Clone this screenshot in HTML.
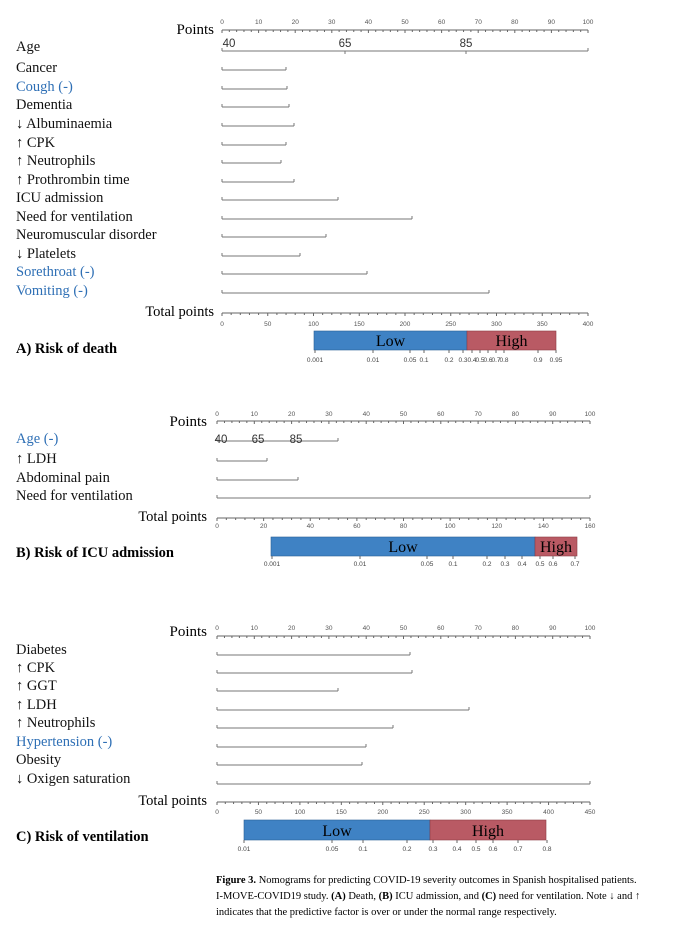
<!DOCTYPE html><html><head><style>body{margin:0;background:#fff}svg{display:block}</style></head><body>
<svg id="s" width="694" height="933" xmlns="http://www.w3.org/2000/svg" font-family="Liberation Serif, serif">
</svg>
<script>
const s=document.getElementById('s');let h='';
const blue='#2e6fb5';
function axis(x0,x1,y,max,step,minor,lblY,fs){
 h+=`<line x1="${x0}" y1="${y}" x2="${x1}" y2="${y}" stroke="#666" stroke-width="1"/>`;
 for(let v=0;v<=max+1e-9;v+=minor){const x=x0+(x1-x0)*v/max;const major=Math.abs(v/step-Math.round(v/step))<1e-6;
  h+=`<line x1="${x}" y1="${y}" x2="${x}" y2="${y+(major?3:2)}" stroke="#666"/>`;
  if(major)h+=`<text x="${x}" y="${lblY}" font-size="${fs}" font-family="Liberation Sans,sans-serif" fill="#555" text-anchor="middle">${Math.round(v)}</text>`;}
}
function lab(t,y,c){h+=`<text x="16" y="${y+5}" font-size="14.5" fill="${c?blue:'#111'}">${t}</text>`}
function seg(x0,x1,y){h+=`<line x1="${x0}" y1="${y}" x2="${x1}" y2="${y}" stroke="#777"/><line x1="${x0}" y1="${y}" x2="${x0}" y2="${y-3}" stroke="#777"/><line x1="${x1}" y1="${y}" x2="${x1}" y2="${y-3}" stroke="#777"/>`}
function bar(x0,xm,x1,y0,y1,title,ty,probs,py){
 h+=`<rect x="${x0}" y="${y0}" width="${xm-x0}" height="${y1-y0}" fill="#3f82c4" stroke="#2a5f95" stroke-width=".6"/>`;
 h+=`<rect x="${xm}" y="${y0}" width="${x1-xm}" height="${y1-y0}" fill="#b95a64" stroke="#8c3c45" stroke-width=".6"/>`;
 h+=`<text x="${(x0+xm)/2}" y="${y1-4}" font-size="16" text-anchor="middle">Low</text><text x="${(xm+x1)/2}" y="${y1-4}" font-size="16" text-anchor="middle">High</text>`;
 h+=`<text x="16" y="${ty}" font-size="14.5" font-weight="bold">${title}</text>`;
 probs.forEach(([t,x])=>{h+=`<line x1="${x}" y1="${y1}" x2="${x}" y2="${y1+3}" stroke="#666"/><text x="${x}" y="${py}" font-size="6.5" font-family="Liberation Sans,sans-serif" fill="#444" text-anchor="middle">${t}</text>`});
}
// Panel A
h+=`<text x="214" y="34" font-size="15" text-anchor="end">Points</text>`;
axis(222,588,30,100,10,2,24,6.5);
lab('Age',46);seg(222,588,51);
[['40',229],['65',345],['85',466]].forEach(([t,x])=>h+=`<text x="${x}" y="47" font-size="11.5" font-family="Liberation Sans,sans-serif" fill="#333" text-anchor="middle">${t}</text>`);
h+=`<line x1="345" y1="51" x2="345" y2="54" stroke="#777"/><line x1="466" y1="51" x2="466" y2="54" stroke="#777"/>`;
[['Cancer',70,286],['Cough (-)',89,287,1],['Dementia',107,289],['↓ Albuminaemia',126,294],['↑ CPK',145,286],['↑ Neutrophils',163,281],['↑ Prothrombin time',182,294],['ICU admission',200,338],['Need for ventilation',219,412],['Neuromuscular disorder',237,326],['↓  Platelets',256,300],['Sorethroat (-)',274,367,1],['Vomiting (-)',293,489,1]].forEach(r=>{lab(r[0],r[1]-3,r[3]);seg(222,r[2],r[1])});
h+=`<text x="214" y="316" font-size="14.5" text-anchor="end">Total points</text>`;
axis(222,588,313,400,50,10,326,6.5);
bar(314,467,556,331,350,'A) Risk of death',353,[['0.001',315],['0.01',373],['0.05',410],['0.1',424],['0.2',449],['0.3',463],['0.4',472],['0.5',480],['0.6',488],['0.7',496],['0.8',504],['0.9',538],['0.95',556]],362);
// Panel B
h+=`<text x="207" y="426" font-size="15" text-anchor="end">Points</text>`;
axis(217,590,421,100,10,2,416,6.5);
lab('Age (-)',438,1);seg(217,338,441);
[['40',221],['65',258],['85',296]].forEach(([t,x])=>h+=`<text x="${x}" y="443" font-size="11.5" font-family="Liberation Sans,sans-serif" fill="#333" text-anchor="middle">${t}</text>`);
[['↑ LDH',461,267],['Abdominal pain',480,298],['Need for ventilation',498,590]].forEach(r=>{lab(r[0],r[1]-3);seg(217,r[2],r[1])});
h+=`<text x="207" y="521" font-size="14.5" text-anchor="end">Total points</text>`;
axis(217,590,518,160,20,4,528,6.5);
bar(271,535,577,537,556,'B) Risk of ICU admission',557,[['0.001',272],['0.01',360],['0.05',427],['0.1',453],['0.2',487],['0.3',505],['0.4',522],['0.5',540],['0.6',553],['0.7',575]],566);
// Panel C
h+=`<text x="207" y="636" font-size="15" text-anchor="end">Points</text>`;
axis(217,590,636,100,10,2,630,6.5);
[['Diabetes',655,410],['↑ CPK',673,412],['↑ GGT',691,338],['↑ LDH',710,469],['↑ Neutrophils',728,393],['Hypertension (-)',747,366,1],['Obesity',765,362],['↓ Oxigen saturation',784,590]].forEach(r=>{lab(r[0],r[1]-6,r[3]);seg(217,r[2],r[1])});
h+=`<text x="207" y="805" font-size="14.5" text-anchor="end">Total points</text>`;
axis(217,590,802,450,50,10,814,6.5);
bar(244,430,546,820,840,'C) Risk of ventilation',841,[['0.01',244],['0.05',332],['0.1',363],['0.2',407],['0.3',433],['0.4',457],['0.5',476],['0.6',493],['0.7',518],['0.8',547]],851);
h+=`<text x="216" y="883" font-size="10.5"><tspan font-weight="bold">Figure 3.</tspan> Nomograms for predicting COVID-19 severity outcomes in Spanish hospitalised patients.</text>`;
h+=`<text x="216" y="899" font-size="10.5">I-MOVE-COVID19 study. <tspan font-weight="bold">(A)</tspan> Death, <tspan font-weight="bold">(B)</tspan> ICU admission, and <tspan font-weight="bold">(C)</tspan> need for ventilation. Note ↓ and ↑</text>`;
h+=`<text x="216" y="915" font-size="10.5">indicates that the predictive factor is over or under the normal range respectively.</text>`;
s.innerHTML=h;
</script></body></html>
